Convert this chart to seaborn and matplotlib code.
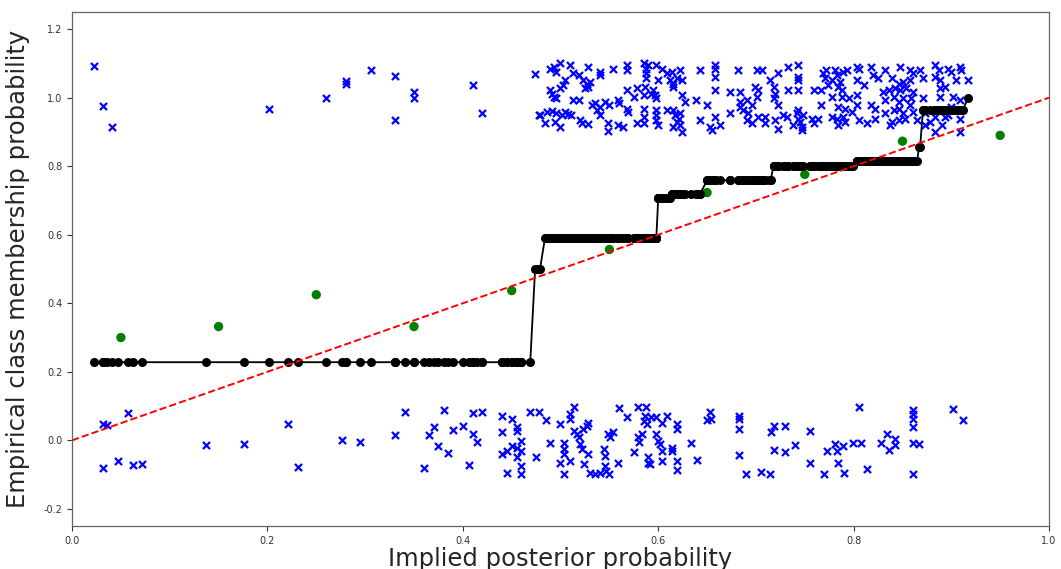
import numpy as np
import matplotlib
matplotlib.use('Agg')
import matplotlib.pyplot as plt
import seaborn as sns

# Observed outcomes (label 1), jittered around 1
top_x = [0.022, 0.032, 0.041, 0.202, 0.260, 0.280, 0.280, 0.306, 0.331, 0.331, 0.350, 0.350, 0.410, 0.420, 0.478,
         0.474, 0.489, 0.493, 0.495, 0.499, 0.510, 0.513, 0.519, 0.528, 0.540, 0.540, 0.554, 0.568, 0.568,
         0.505, 0.523, 0.527, 0.530, 0.525, 0.528, 0.489, 0.491, 0.493, 0.495, 0.499, 0.503, 0.513, 0.519,
         0.532, 0.535, 0.540, 0.546, 0.550, 0.559, 0.560, 0.568, 0.575, 0.578, 0.479, 0.486, 0.491, 0.495,
         0.501, 0.505, 0.508, 0.511, 0.484, 0.494, 0.499, 0.520, 0.522, 0.528, 0.537, 0.540, 0.549, 0.549,
         0.559, 0.564, 0.578, 0.568, 0.569,
         0.585, 0.588, 0.588, 0.588, 0.590, 0.598, 0.604, 0.600, 0.609, 0.612, 0.614, 0.615, 0.615, 0.619,
         0.622, 0.624, 0.586, 0.585, 0.593, 0.595, 0.598, 0.597, 0.624, 0.627, 0.639, 0.643, 0.650, 0.658,
         0.658, 0.658, 0.658, 0.673, 0.682, 0.684, 0.684, 0.684, 0.687, 0.691, 0.692, 0.696, 0.699, 0.701,
         0.701, 0.702, 0.585, 0.585, 0.585, 0.598, 0.598, 0.598, 0.600, 0.609, 0.615, 0.617, 0.619, 0.621,
         0.622, 0.622, 0.624, 0.615, 0.643, 0.653, 0.655, 0.658, 0.663, 0.673, 0.691, 0.696, 0.702,
         0.706, 0.714, 0.723, 0.733, 0.743, 0.743, 0.743, 0.733, 0.743, 0.718, 0.720, 0.718, 0.723, 0.709,
         0.709, 0.720, 0.723, 0.728, 0.732, 0.738, 0.742, 0.743, 0.743, 0.745, 0.747, 0.747, 0.748, 0.757,
         0.759, 0.764, 0.759, 0.767, 0.767, 0.769, 0.771, 0.772, 0.774, 0.778, 0.778, 0.781, 0.783, 0.784,
         0.786, 0.788, 0.788, 0.784, 0.789, 0.793, 0.778, 0.783, 0.784, 0.789, 0.791, 0.798, 0.803, 0.806,
         0.803, 0.803, 0.803, 0.806, 0.811, 0.814, 0.818, 0.820, 0.818, 0.822, 0.822, 0.825, 0.795, 0.791,
         0.832, 0.847, 0.858, 0.868, 0.883, 0.887, 0.897, 0.909, 0.910, 0.839, 0.846, 0.851, 0.858, 0.861,
         0.871, 0.883, 0.888, 0.900, 0.905, 0.917, 0.830, 0.836, 0.842, 0.847, 0.854, 0.861, 0.832, 0.841,
         0.846, 0.851, 0.859, 0.871, 0.888, 0.894, 0.888, 0.902, 0.909, 0.900, 0.832, 0.841, 0.846, 0.851,
         0.858, 0.861, 0.873, 0.883, 0.897, 0.839, 0.846, 0.853, 0.865, 0.873, 0.878, 0.890, 0.894, 0.909,
         0.837, 0.883, 0.909]
top_y = [1.092, 0.975, 0.913, 0.966, 1.000, 1.049, 1.039, 1.082, 1.063, 0.936, 1.017, 0.998, 1.037, 0.956, 0.949,
         1.069, 1.085, 1.090, 1.075, 1.100, 1.095, 1.071, 1.066, 1.090, 1.075, 1.066, 1.085, 1.095, 1.080,
         1.051, 1.051, 1.041, 1.046, 1.027, 1.032, 1.022, 1.012, 1.002, 0.998, 1.027, 1.037, 0.993, 0.993,
         0.978, 0.983, 0.973, 0.988, 0.978, 0.993, 0.983, 1.022, 1.002, 1.027, 0.949, 0.959, 0.961, 0.954,
         0.949, 0.959, 0.951, 0.949, 0.925, 0.929, 0.915, 0.934, 0.925, 0.922, 0.963, 0.949, 0.925, 0.902,
         0.920, 0.915, 0.925, 0.968, 0.959,
         1.100, 1.085, 1.071, 1.056, 1.095, 1.095, 1.085, 1.051, 1.071, 1.051, 1.075, 1.041, 1.032, 1.056,
         1.080, 1.051, 1.032, 1.007, 1.012, 1.022, 0.998, 1.007, 1.007, 0.988, 0.993, 1.080, 0.978, 1.095,
         1.085, 1.061, 1.022, 1.017, 1.080, 1.017, 0.988, 0.973, 0.963, 0.993, 0.954, 0.978, 1.032, 1.002,
         1.080, 1.022, 0.968, 0.944, 0.925, 0.963, 0.949, 0.934, 0.920, 0.963, 0.963, 0.949, 0.929, 0.939,
         0.954, 0.920, 0.900, 0.915, 0.934, 0.915, 0.905, 0.944, 0.920, 0.954, 0.934, 0.925, 0.944,
         1.080, 1.051, 1.071, 1.090, 1.095, 1.061, 1.051, 1.022, 1.022, 1.032, 1.012, 0.998, 0.978, 0.944,
         0.925, 0.934, 0.910, 0.949, 0.944, 0.920, 0.954, 0.963, 0.939, 0.929, 0.915, 0.905, 0.949, 0.939,
         0.925, 0.939, 1.022, 1.022, 0.978, 1.071, 1.056, 1.080, 1.037, 1.051, 1.002, 1.080, 1.066, 1.032,
         1.046, 1.022, 1.002, 0.973, 1.075, 1.080, 0.944, 0.939, 0.920, 0.944, 0.929, 0.959, 1.090, 1.085,
         1.051, 1.007, 0.978, 0.934, 1.037, 0.925, 1.090, 1.066, 0.978, 0.968, 0.939, 1.056, 0.998, 0.968,
         1.080, 1.090, 1.080, 1.080, 1.095, 1.080, 1.085, 1.090, 1.080, 1.056, 1.041, 1.046, 1.051, 1.071,
         1.056, 1.061, 1.051, 1.075, 1.051, 1.051, 1.017, 1.022, 1.027, 1.022, 1.027, 1.017, 0.993, 1.002,
         0.988, 0.998, 0.998, 0.998, 1.027, 1.032, 1.002, 1.002, 0.993, 0.973, 0.954, 0.963, 0.968, 0.954,
         0.978, 0.959, 0.954, 0.944, 0.949, 0.929, 0.934, 0.939, 0.934, 0.920, 0.929, 0.920, 0.944, 0.939,
         0.920, 0.900, 0.900]

# Observed outcomes (label 0), jittered around 0
bottom_x = [0.032, 0.036, 0.057, 0.032, 0.047, 0.062, 0.072, 0.137, 0.176, 0.221, 0.231, 0.276, 0.295, 0.331,
            0.341, 0.360, 0.365, 0.371, 0.375, 0.381, 0.385, 0.390, 0.400, 0.406, 0.410, 0.410, 0.414, 0.420,
            0.440, 0.440, 0.440, 0.445, 0.445, 0.450, 0.450, 0.455, 0.455, 0.455, 0.455, 0.460, 0.460, 0.460,
            0.460, 0.469, 0.475, 0.478,
            0.485, 0.489, 0.499, 0.499, 0.504, 0.504, 0.504, 0.504, 0.510, 0.510, 0.510, 0.514, 0.514, 0.517,
            0.519, 0.520, 0.522, 0.523, 0.524, 0.527, 0.528, 0.528, 0.530, 0.535, 0.540, 0.544, 0.546, 0.546,
            0.547, 0.549, 0.550, 0.551, 0.554, 0.559, 0.560, 0.568, 0.575, 0.579, 0.579, 0.580, 0.583, 0.585,
            0.586, 0.588, 0.589, 0.590, 0.590, 0.592, 0.593, 0.598, 0.598, 0.600, 0.602, 0.604, 0.604, 0.604,
            0.609, 0.614, 0.614, 0.619, 0.619, 0.619, 0.619, 0.634, 0.640, 0.650, 0.653, 0.654, 0.683, 0.683,
            0.683, 0.683, 0.690, 0.705, 0.714, 0.715, 0.719, 0.719, 0.730, 0.730, 0.740, 0.755, 0.755, 0.770,
            0.773, 0.781, 0.783, 0.784, 0.789, 0.790, 0.799, 0.805, 0.808, 0.814, 0.828, 0.834, 0.836, 0.842,
            0.842, 0.861, 0.861, 0.861, 0.861, 0.861, 0.861, 0.867, 0.902, 0.912]
bottom_y = [0.048, 0.045, 0.080, -0.082, -0.060, -0.072, -0.069, -0.014, -0.011, 0.048, -0.079, 0.001, -0.004,
            0.015, 0.084, -0.082, 0.015, 0.038, -0.018, 0.089, -0.037, 0.031, 0.043, -0.072, 0.080, 0.018,
            -0.006, 0.082, 0.072, 0.023, -0.040, -0.030, -0.094, 0.062, -0.016, 0.038, 0.028, -0.021, -0.050,
            -0.001, -0.030, -0.074, -0.099, 0.082, -0.050, 0.082,
            0.059, -0.009, 0.049, -0.065, -0.009, -0.026, -0.040, -0.097, 0.077, 0.062, -0.060, 0.096, 0.028,
            0.018, 0.009, -0.011, -0.026, 0.033, -0.069, 0.043, 0.052, -0.040, -0.094, -0.099, -0.094, -0.026,
            -0.045, -0.074, -0.089, 0.018, -0.099, 0.009, 0.023, -0.065, 0.094, 0.067, -0.033, 0.096, 0.009,
            -0.006, 0.018, 0.057, 0.072, 0.096, 0.048, -0.050, -0.065, -0.069, 0.067, 0.067, 0.018, -0.001,
            -0.011, -0.030, 0.051, -0.060, 0.072, -0.021, -0.030, 0.048, 0.033, -0.060, -0.086, -0.009, -0.057,
            0.059, 0.082, 0.062, 0.072, 0.062, 0.033, -0.043, -0.097, -0.092, -0.099, 0.023, 0.043, -0.028,
            0.043, -0.035, -0.013, 0.028, -0.065, -0.097, -0.032, -0.011, -0.030, -0.065, -0.016, -0.094,
            -0.008, 0.096, -0.008, -0.084, -0.008, 0.018, -0.028, 0.004, -0.014, 0.089, 0.077, 0.062, 0.038,
            -0.008, -0.099, -0.011, 0.092, 0.060]

# Fitted (isotonic) calibration curve: level starts and values
step_start = [0.0, 0.471, 0.474, 0.484, 0.599, 0.614, 0.647, 0.716, 0.801, 0.866, 0.869, 0.915]
step_level = [0.228, 0.333, 0.500, 0.589, 0.706, 0.720, 0.759, 0.800, 0.816, 0.855, 0.963, 1.000]

# Binned empirical rates
bin_centers = [0.05, 0.15, 0.25, 0.35, 0.45, 0.55, 0.65, 0.75, 0.85, 0.95]
bin_rates = [0.300, 0.332, 0.425, 0.332, 0.437, 0.557, 0.723, 0.776, 0.873, 0.890]

diag = [0.0, 1.0]

all_x = np.array(top_x + bottom_x)
all_y = np.array(top_y + bottom_y)
order = np.argsort(all_x, kind='stable')
sorted_x = all_x[order]
fit = np.array(step_level)[np.searchsorted(step_start, sorted_x, side='right') - 1]

sns.set_style('ticks')
plt.rcParams['font.family'] = ['DejaVu Sans']

fig = plt.figure(figsize=(10.61, 5.69), dpi=100)
ax = fig.add_axes([0.0679, 0.0756, 0.9208, 0.9033])

sns.scatterplot(x=all_x, y=all_y, marker='x', color='blue', s=26, linewidth=1.6, ax=ax, zorder=2)
sns.scatterplot(x=bin_centers, y=bin_rates, color='green', s=45, edgecolor='none', ax=ax, zorder=3)
sns.lineplot(x=sorted_x, y=fit, estimator=None, sort=False, color='black', marker='o',
             markersize=6.5, markeredgewidth=0, linewidth=1.3, ax=ax, zorder=4)
sns.lineplot(x=diag, y=diag, color='red', linestyle='--', linewidth=1.4, ax=ax, zorder=5)

ax.set_xlim(0, 1)
ax.set_ylim(-0.25, 1.25)
ax.set_xticks(np.arange(0, 1.01, 0.2))
ax.set_yticks(np.arange(-0.2, 1.21, 0.2))
ax.set_xticklabels([f'{v:.1f}' for v in np.arange(0, 1.01, 0.2)])
ax.set_yticklabels([f'{v:.1f}' for v in np.arange(-0.2, 1.21, 0.2)])
ax.tick_params(labelsize=7, length=3.5, width=0.8, colors='0.2')
for sp in ax.spines.values():
    sp.set_color('0.4')
    sp.set_linewidth(0.9)

ax.set_xlabel('Implied posterior probability', fontsize=17.5, labelpad=1)
ax.set_ylabel('Empirical class membership probability', fontsize=17.5, labelpad=10)

fig.savefig('out.png', dpi=100)
